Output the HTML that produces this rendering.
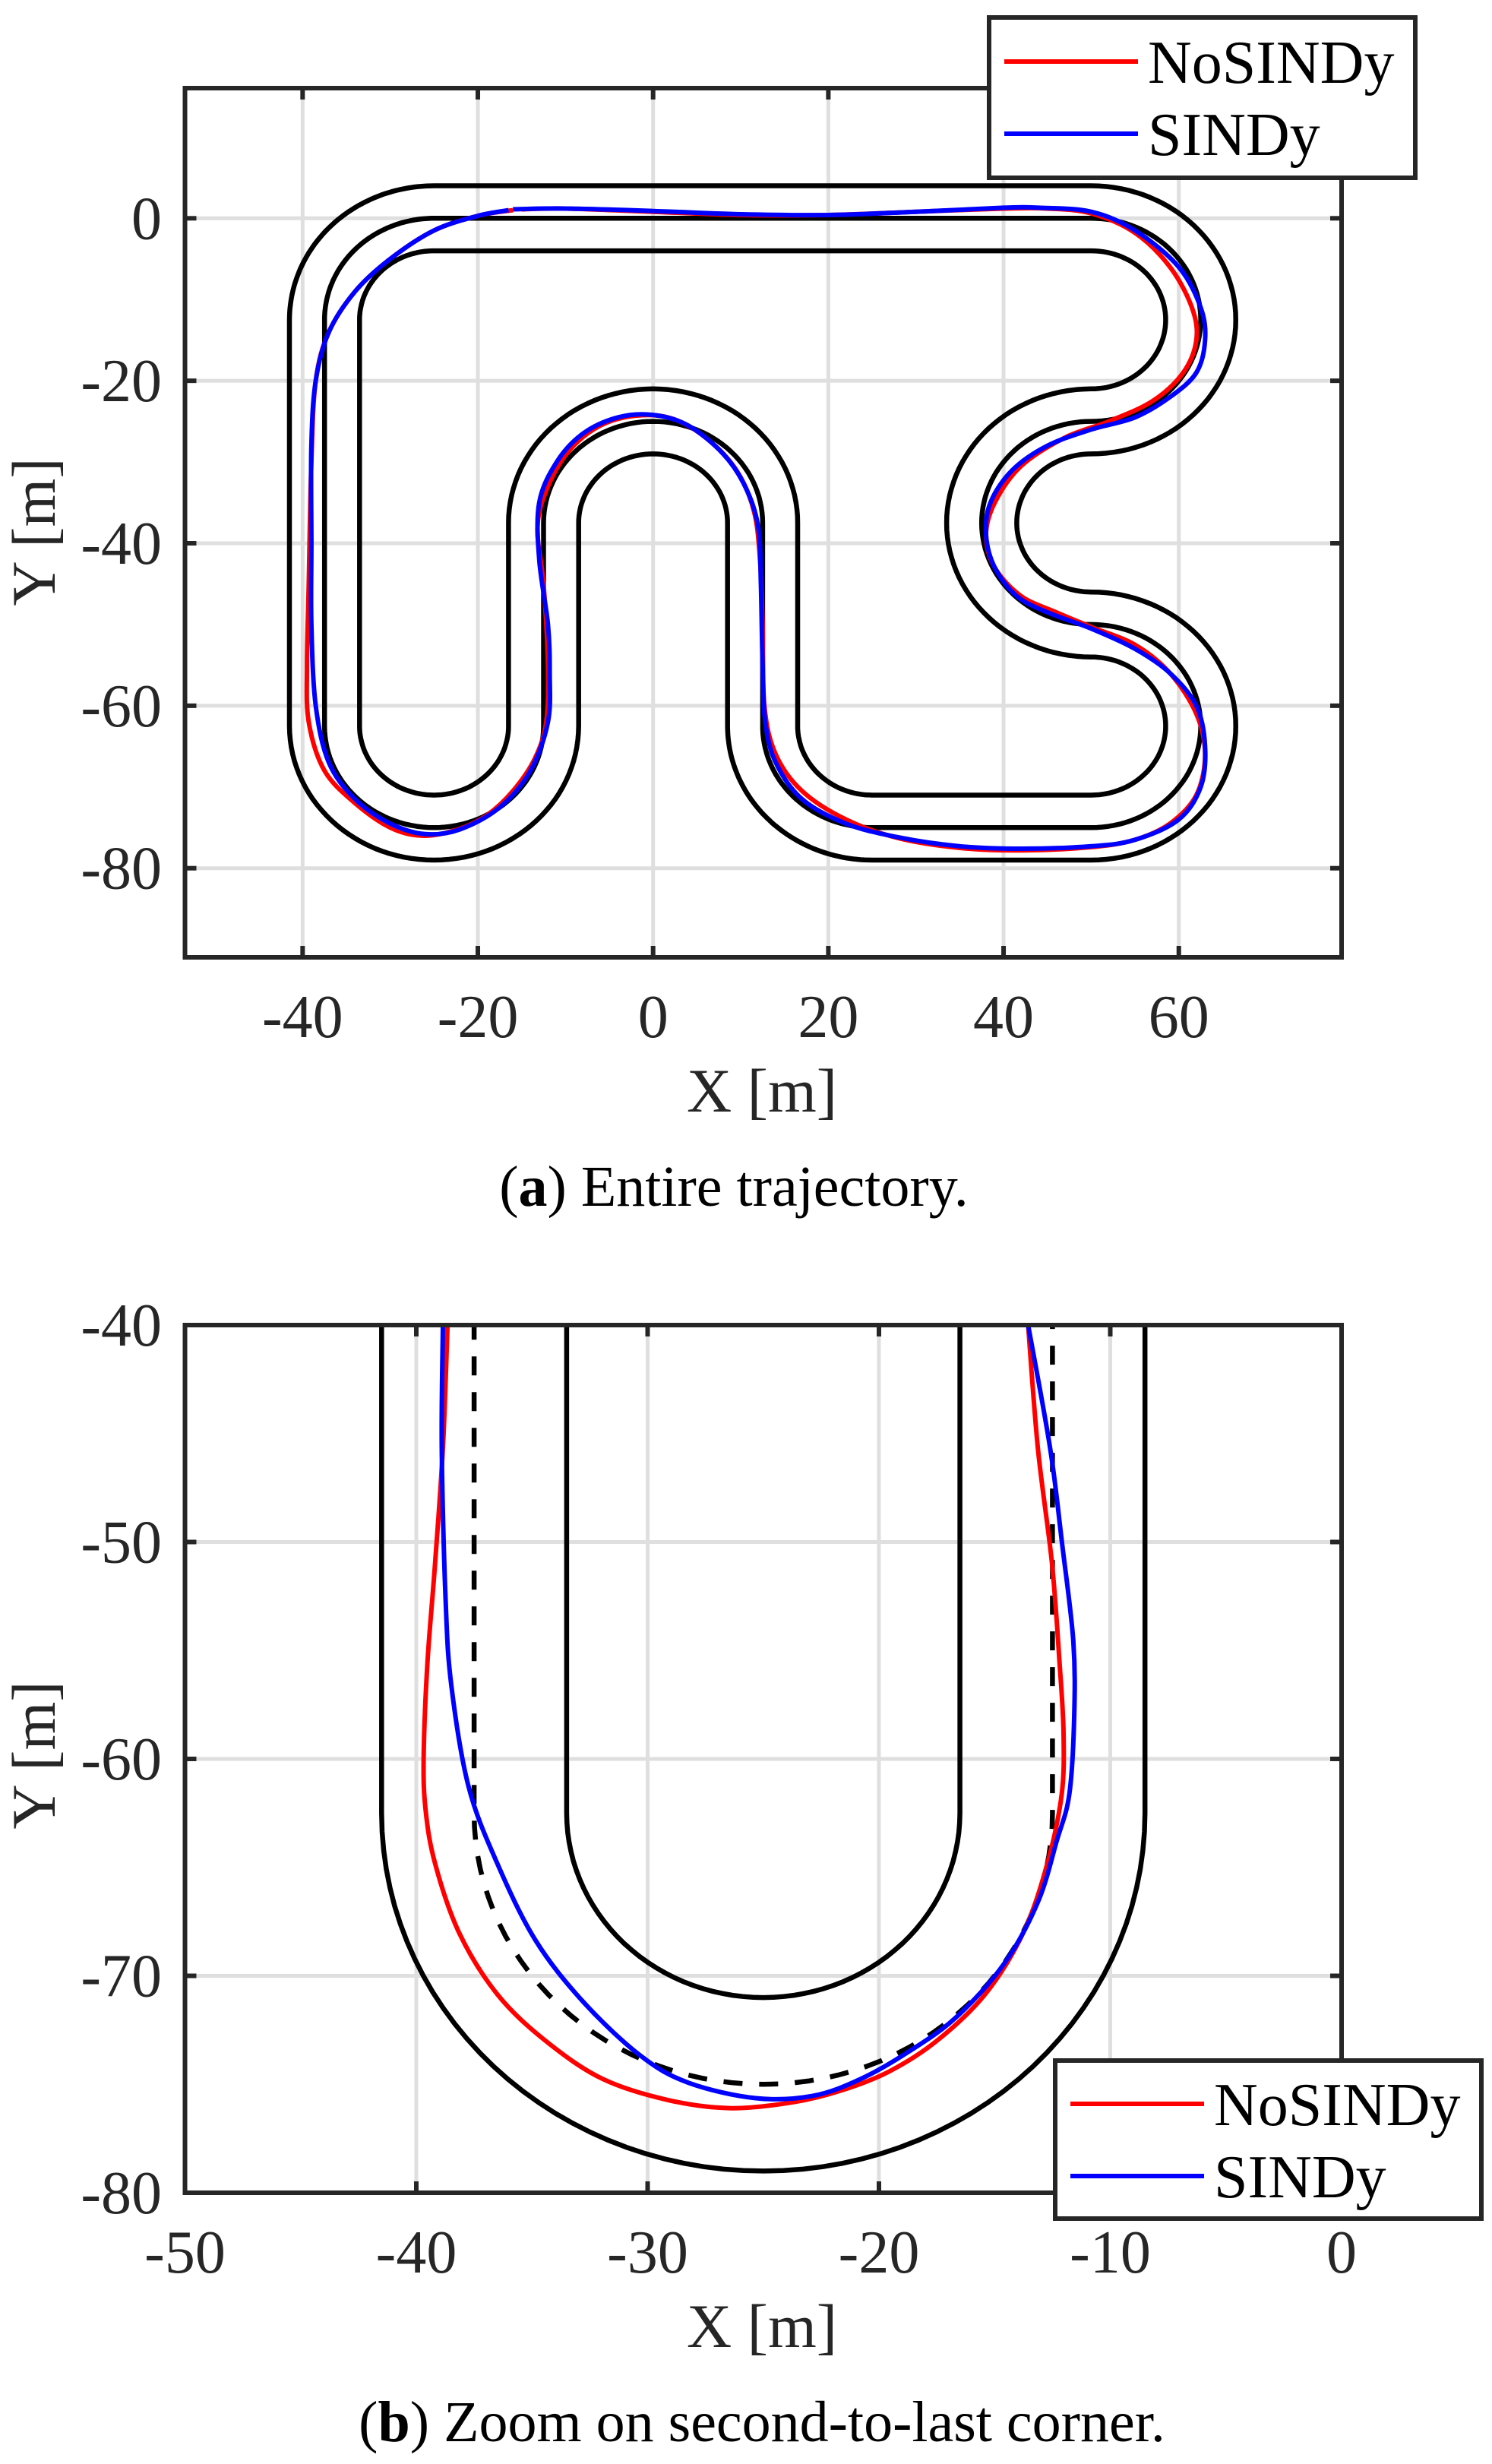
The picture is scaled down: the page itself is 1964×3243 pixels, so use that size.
<!DOCTYPE html>
<html><head><meta charset="utf-8"><style>
html,body{margin:0;padding:0;background:#fff;}
svg{display:block;font-family:"Liberation Serif",serif;}
</style></head><body>
<svg id="fig" width="1964" height="3243" viewBox="0 0 1964 3243" xmlns="http://www.w3.org/2000/svg">
<defs>
<clipPath id="clipA"><rect x="243.5" y="116" width="1522.5" height="1144"/></clipPath>
<clipPath id="clipB"><rect x="243.5" y="1744" width="1522.5" height="1142"/></clipPath>
</defs>
<g id="plotA"></g>
<g id="plotB"></g>
</svg>
<script>
// ---- data ----
const xTicksA = [-40,-20,0,20,40,60];
const yTicksA = [0,-20,-40,-60,-80];
const xTicksB = [-50,-40,-30,-20,-10,0];
const yTicksB = [-40,-50,-60,-70,-80];
// track centreline segments
const trackSegments = [
 ['L',-25,0,50,0],
 ['A',50,-12.5,12.5,90,-90],
 ['A',50,-37.5,12.5,90,270],
 ['A',50,-62.5,12.5,90,-90],
 ['L',50,-75,25,-75],
 ['A',25,-62.5,12.5,-90,-180],
 ['L',12.5,-62.5,12.5,-37.5],
 ['A',0,-37.5,12.5,0,180],
 ['L',-12.5,-37.5,-12.5,-62.5],
 ['A',-25,-62.5,12.5,0,-180],
 ['L',-37.5,-62.5,-37.5,-12.5],
 ['A',-25,-12.5,12.5,180,90]
];
const trackHalfWidth = 4;
const noSindyA_x = [-15,-10,0,10,20,30,40,45,50,55,59,61.5,62,60.5,57,52,47,42,39,38,39,42,46,50,55,59,62,63,62,59,55,50,42,35,28,22,17,14,12.7,12.5,12.2,11.5,9.5,6,2,-2,-6,-9.5,-12,-13.2,-12.5,-12,-12.2,-13.5,-16,-19,-22.5,-26.4,-30,-34,-37.5,-39.3,-39.5,-39.3,-39,-38.5,-37,-34,-30,-25,-20,-16];
const noSindyA_y = [1.1,1.2,0.8,0.4,0.4,0.8,1.2,1.2,0.6,-1.8,-6,-11,-15,-19,-22.5,-25,-27,-30.5,-35,-39,-43,-46.5,-48.5,-50.3,-52.5,-56,-61,-66,-71,-74.5,-76.5,-77.4,-77.8,-77.5,-76.3,-74,-70.5,-66,-60,-50,-42,-36,-31,-27,-24.6,-24.3,-25.5,-28.5,-33,-38,-45,-55,-62,-66.5,-70.5,-73.5,-75.3,-76,-75,-72,-68,-62,-55,-45,-30,-20,-14,-9,-5,-1.5,0.3,1];
const sindyA_x = [-16,-10,0,10,20,30,40,44,50,55,60,62.5,63,62,59,55,50,45,41,38.5,38,39,41.5,45,50,55,59,62,63,62.5,60,55,50,42,35,28,22,17,14,12.8,12.5,12.3,12,10.5,8,4,0,-4,-8,-11,-13,-13,-12,-11.8,-12,-14,-17.5,-22,-26,-30,-34,-37,-38.5,-39,-39,-39,-38.5,-37,-34,-30,-25,-20,-16.5];
const sindyA_y = [1.1,1.2,0.9,0.5,0.4,0.8,1.3,1.3,0.8,-1.5,-6,-11,-15,-19,-22,-24.5,-26,-28,-31,-35,-39,-43,-46.5,-48.5,-50.5,-53,-56,-60,-65,-70,-74,-76.5,-77.3,-77.6,-77.3,-76.2,-74.5,-71.5,-67,-62,-55,-45,-38,-33,-29,-25.5,-24.2,-24.5,-26.5,-30,-35,-42,-50,-56,-62,-68,-72.5,-75.2,-75.8,-74.5,-71.5,-67,-60,-50,-40,-28,-20,-14,-9,-5,-1.5,0.3,1.0];
const noSindyB_x = [-38.65,-38.85,-39.19,-39.52,-39.68,-39.6,-39.19,-38.15,-36.5,-34.43,-31.95,-29.06,-26.37,-23.68,-21.61,-19.54,-17.48,-15.41,-13.76,-12.72,-12.1,-12.02,-12.19,-12.52,-13.13,-13.55];
const noSindyB_y = [-40,-45.67,-50.99,-55.6,-59.86,-62.34,-64.82,-68.01,-70.85,-72.98,-74.75,-75.74,-76.1,-75.82,-75.28,-74.4,-72.98,-70.85,-68.01,-64.82,-61.63,-58.79,-55.6,-50.99,-45.67,-40];
const sindyB_x = [-38.85,-38.9,-38.73,-38.48,-37.74,-36.5,-34.84,-32.78,-30.3,-28.23,-25.33,-22.85,-20.78,-18.72,-16.65,-14.58,-13.13,-12.31,-11.77,-11.56,-11.6,-12.1,-12.6,-13.55];
const sindyB_y = [-40,-45.67,-52.77,-56.67,-61.28,-64.82,-68.37,-71.2,-73.69,-74.93,-75.64,-75.53,-74.75,-73.5,-71.9,-69.43,-66.6,-63.76,-61.63,-58.09,-54.54,-49.93,-45.67,-40];

const xa = x => 859.7 + 11.534*x;
const ya = y => 287.3 - 10.6925*y;
const xb = x => 1766 + 30.45*x;
const yb = y => 1744 - 28.55*(y+40);
const NS='http://www.w3.org/2000/svg';
function mk(parent, tag, attrs){const e=document.createElementNS(NS,tag);for(const k in attrs)e.setAttribute(k,attrs[k]);parent.appendChild(e);return e;}

function trackPts(off){
  const pts=[];
  trackSegments.forEach(s=>{
    if(s[0]==='L'){
      const dx=s[3]-s[1],dy=s[4]-s[2],L=Math.hypot(dx,dy),tx=dx/L,ty=dy/L;
      const nx=-ty,ny=tx;
      for(let i=0;i<=20;i++){const t=i/20;pts.push([s[1]+dx*t+off*nx,s[2]+dy*t+off*ny]);}
    }else{
      const [_,cx,cy,r,a0,a1]=s;const sg=Math.sign(a1-a0);
      for(let i=0;i<=60;i++){const a=(a0+(a1-a0)*i/60)*Math.PI/180;
        const nx=-sg*Math.cos(a),ny=-sg*Math.sin(a);
        pts.push([cx+r*Math.cos(a)+off*nx,cy+r*Math.sin(a)+off*ny]);}
    }
  });
  return pts;
}
function polyD(pts,fx,fy,close){return pts.map((p,i)=>(i?'L':'M')+fx(p[0]).toFixed(1)+' '+fy(p[1]).toFixed(1)).join(' ')+(close?' Z':'');}
function smoothD(xs,ys,fx,fy){
  const P=xs.map((x,i)=>[fx(x),fy(ys[i])]);let d='M'+P[0][0].toFixed(1)+' '+P[0][1].toFixed(1);
  for(let i=0;i<P.length-1;i++){const p0=P[Math.max(0,i-1)],p1=P[i],p2=P[i+1],p3=P[Math.min(P.length-1,i+2)];
    const c1=[p1[0]+(p2[0]-p0[0])/6,p1[1]+(p2[1]-p0[1])/6],c2=[p2[0]-(p3[0]-p1[0])/6,p2[1]-(p3[1]-p1[1])/6];
    d+=' C'+c1[0].toFixed(1)+' '+c1[1].toFixed(1)+' '+c2[0].toFixed(1)+' '+c2[1].toFixed(1)+' '+p2[0].toFixed(1)+' '+p2[1].toFixed(1);}
  return d;
}

function drawAxes(g, box, xt, yt, fx, fy){
  const [L,T,R,B]=box;
  xt.forEach(v=>{const l=mk(g,'line',{x1:fx(v),x2:fx(v),y1:T,y2:B,stroke:'#dfdfdf','stroke-width':5});
    
    });
  yt.forEach(v=>{const l=mk(g,'line',{x1:L,x2:R,y1:fy(v),y2:fy(v),stroke:'#dfdfdf','stroke-width':5});
    
    });
}
function drawFrame(g, box, xt, yt, fx, fy, xlabBase, capBase, capLetter, capText, ylabCY){
  const [L,T,R,B]=box;
  const fr=mk(g,'rect',{x:L,y:T,width:R-L,height:B-T,fill:'none',stroke:'#262626','stroke-width':6});
  
  
  xt.forEach(v=>{
    mk(g,'line',{x1:fx(v),x2:fx(v),y1:B,y2:B-15,stroke:'#262626','stroke-width':6});
    mk(g,'line',{x1:fx(v),x2:fx(v),y1:T,y2:T+15,stroke:'#262626','stroke-width':6});
    const t=mk(g,'text',{x:fx(v),y:B+105,'text-anchor':'middle','font-size':80,fill:'#262626'});t.textContent=v;
    
    
  });
  yt.forEach(v=>{
    mk(g,'line',{x1:L,x2:L+15,y1:fy(v),y2:fy(v),stroke:'#262626','stroke-width':6});
    mk(g,'line',{x1:R,x2:R-15,y1:fy(v),y2:fy(v),stroke:'#262626','stroke-width':6});
    const t=mk(g,'text',{x:213,y:fy(v)+27,'text-anchor':'end','font-size':80,fill:'#262626'});t.textContent=v;
    
    
  });
  const xl=mk(g,'text',{x:1003,y:xlabBase,'text-anchor':'middle','font-size':82,fill:'#262626'});xl.textContent='X [m]';
  
  
  const yl=mk(g,'text',{x:0,y:0,'text-anchor':'middle','font-size':82,fill:'#262626',transform:'translate(72 '+ylabCY+') rotate(-90)'});yl.textContent='Y [m]';
  
  
  const c=mk(g,'text',{x:capLetter==='a'?966:1003,y:capBase,'text-anchor':'middle','font-size':76,fill:'#000'});
  c.innerHTML='(<tspan font-weight="bold">'+capLetter+'</tspan>) '+capText;
  
  
}
function drawLegend(g,x0,y0,x1,y1,ry1,ry2){
  const lg=mk(g,'g',{});
  
  
  mk(lg,'rect',{x:x0,y:y0,width:x1-x0,height:y1-y0,fill:'#fff',stroke:'#262626','stroke-width':6});
  [[ry1,'#ff0000','NoSINDy'],[ry2,'#0000ff','SINDy']].forEach(e=>{
    const en=mk(lg,'g',{});
    
    
    mk(en,'line',{x1:x0+20,x2:x0+196,y1:e[0],y2:e[0],stroke:e[1],'stroke-width':6});
    const t=mk(en,'text',{x:x0+209,y:e[0]+28,'font-size':80,fill:'#000'});t.textContent=e[2];
  });
}

const gA=document.getElementById('plotA');
const boxA=[243.5,116,1766,1260];
drawAxes(gA,boxA,xTicksA,yTicksA,xa,ya);
const dA=mk(gA,'g',{'clip-path':'url(#clipA)'});
[-trackHalfWidth,0,trackHalfWidth].forEach((o,i)=>{
  const p=mk(dA,'path',{d:polyD(trackPts(o),xa,ya,true),fill:'none',stroke:'#000','stroke-width':6.5,'stroke-linejoin':'round'});
  
  
});
const rA=mk(dA,'path',{d:smoothD(noSindyA_x,noSindyA_y,xa,ya),fill:'none',stroke:'#ff0000','stroke-width':6});


const bA=mk(dA,'path',{d:smoothD(sindyA_x,sindyA_y,xa,ya),fill:'none',stroke:'#0000ff','stroke-width':6});


drawFrame(gA,boxA,xTicksA,yTicksA,xa,ya,1463,1587,'a','Entire trajectory.',700);
drawLegend(gA,1302,23,1863,234,81,176);

const gB=document.getElementById('plotB');
const boxB=[243.5,1744,1766,2886];
drawAxes(gB,boxB,xTicksB,yTicksB,xb,yb);
const dB=mk(gB,'g',{'clip-path':'url(#clipB)'});
[-trackHalfWidth,trackHalfWidth].forEach(o=>{
  const p=mk(dB,'path',{d:polyD(trackPts(o),xb,yb,true),fill:'none',stroke:'#000','stroke-width':6.5});
  
  
});
const cl=mk(dB,'path',{d:polyD(trackPts(0),xb,yb,true),fill:'none',stroke:'#000','stroke-width':6.5,'stroke-dasharray':'25 22'});


const rB=mk(dB,'path',{d:smoothD(noSindyB_x,noSindyB_y,xb,yb),fill:'none',stroke:'#ff0000','stroke-width':6});


const bB=mk(dB,'path',{d:smoothD(sindyB_x,sindyB_y,xb,yb),fill:'none',stroke:'#0000ff','stroke-width':6});


drawFrame(gB,boxB,xTicksB,yTicksB,xb,yb,3089,3213,'b','Zoom on second-to-last corner.',2310);
drawLegend(gB,1389,2712,1950,2920,2769,2864);
</script>
</body></html>
